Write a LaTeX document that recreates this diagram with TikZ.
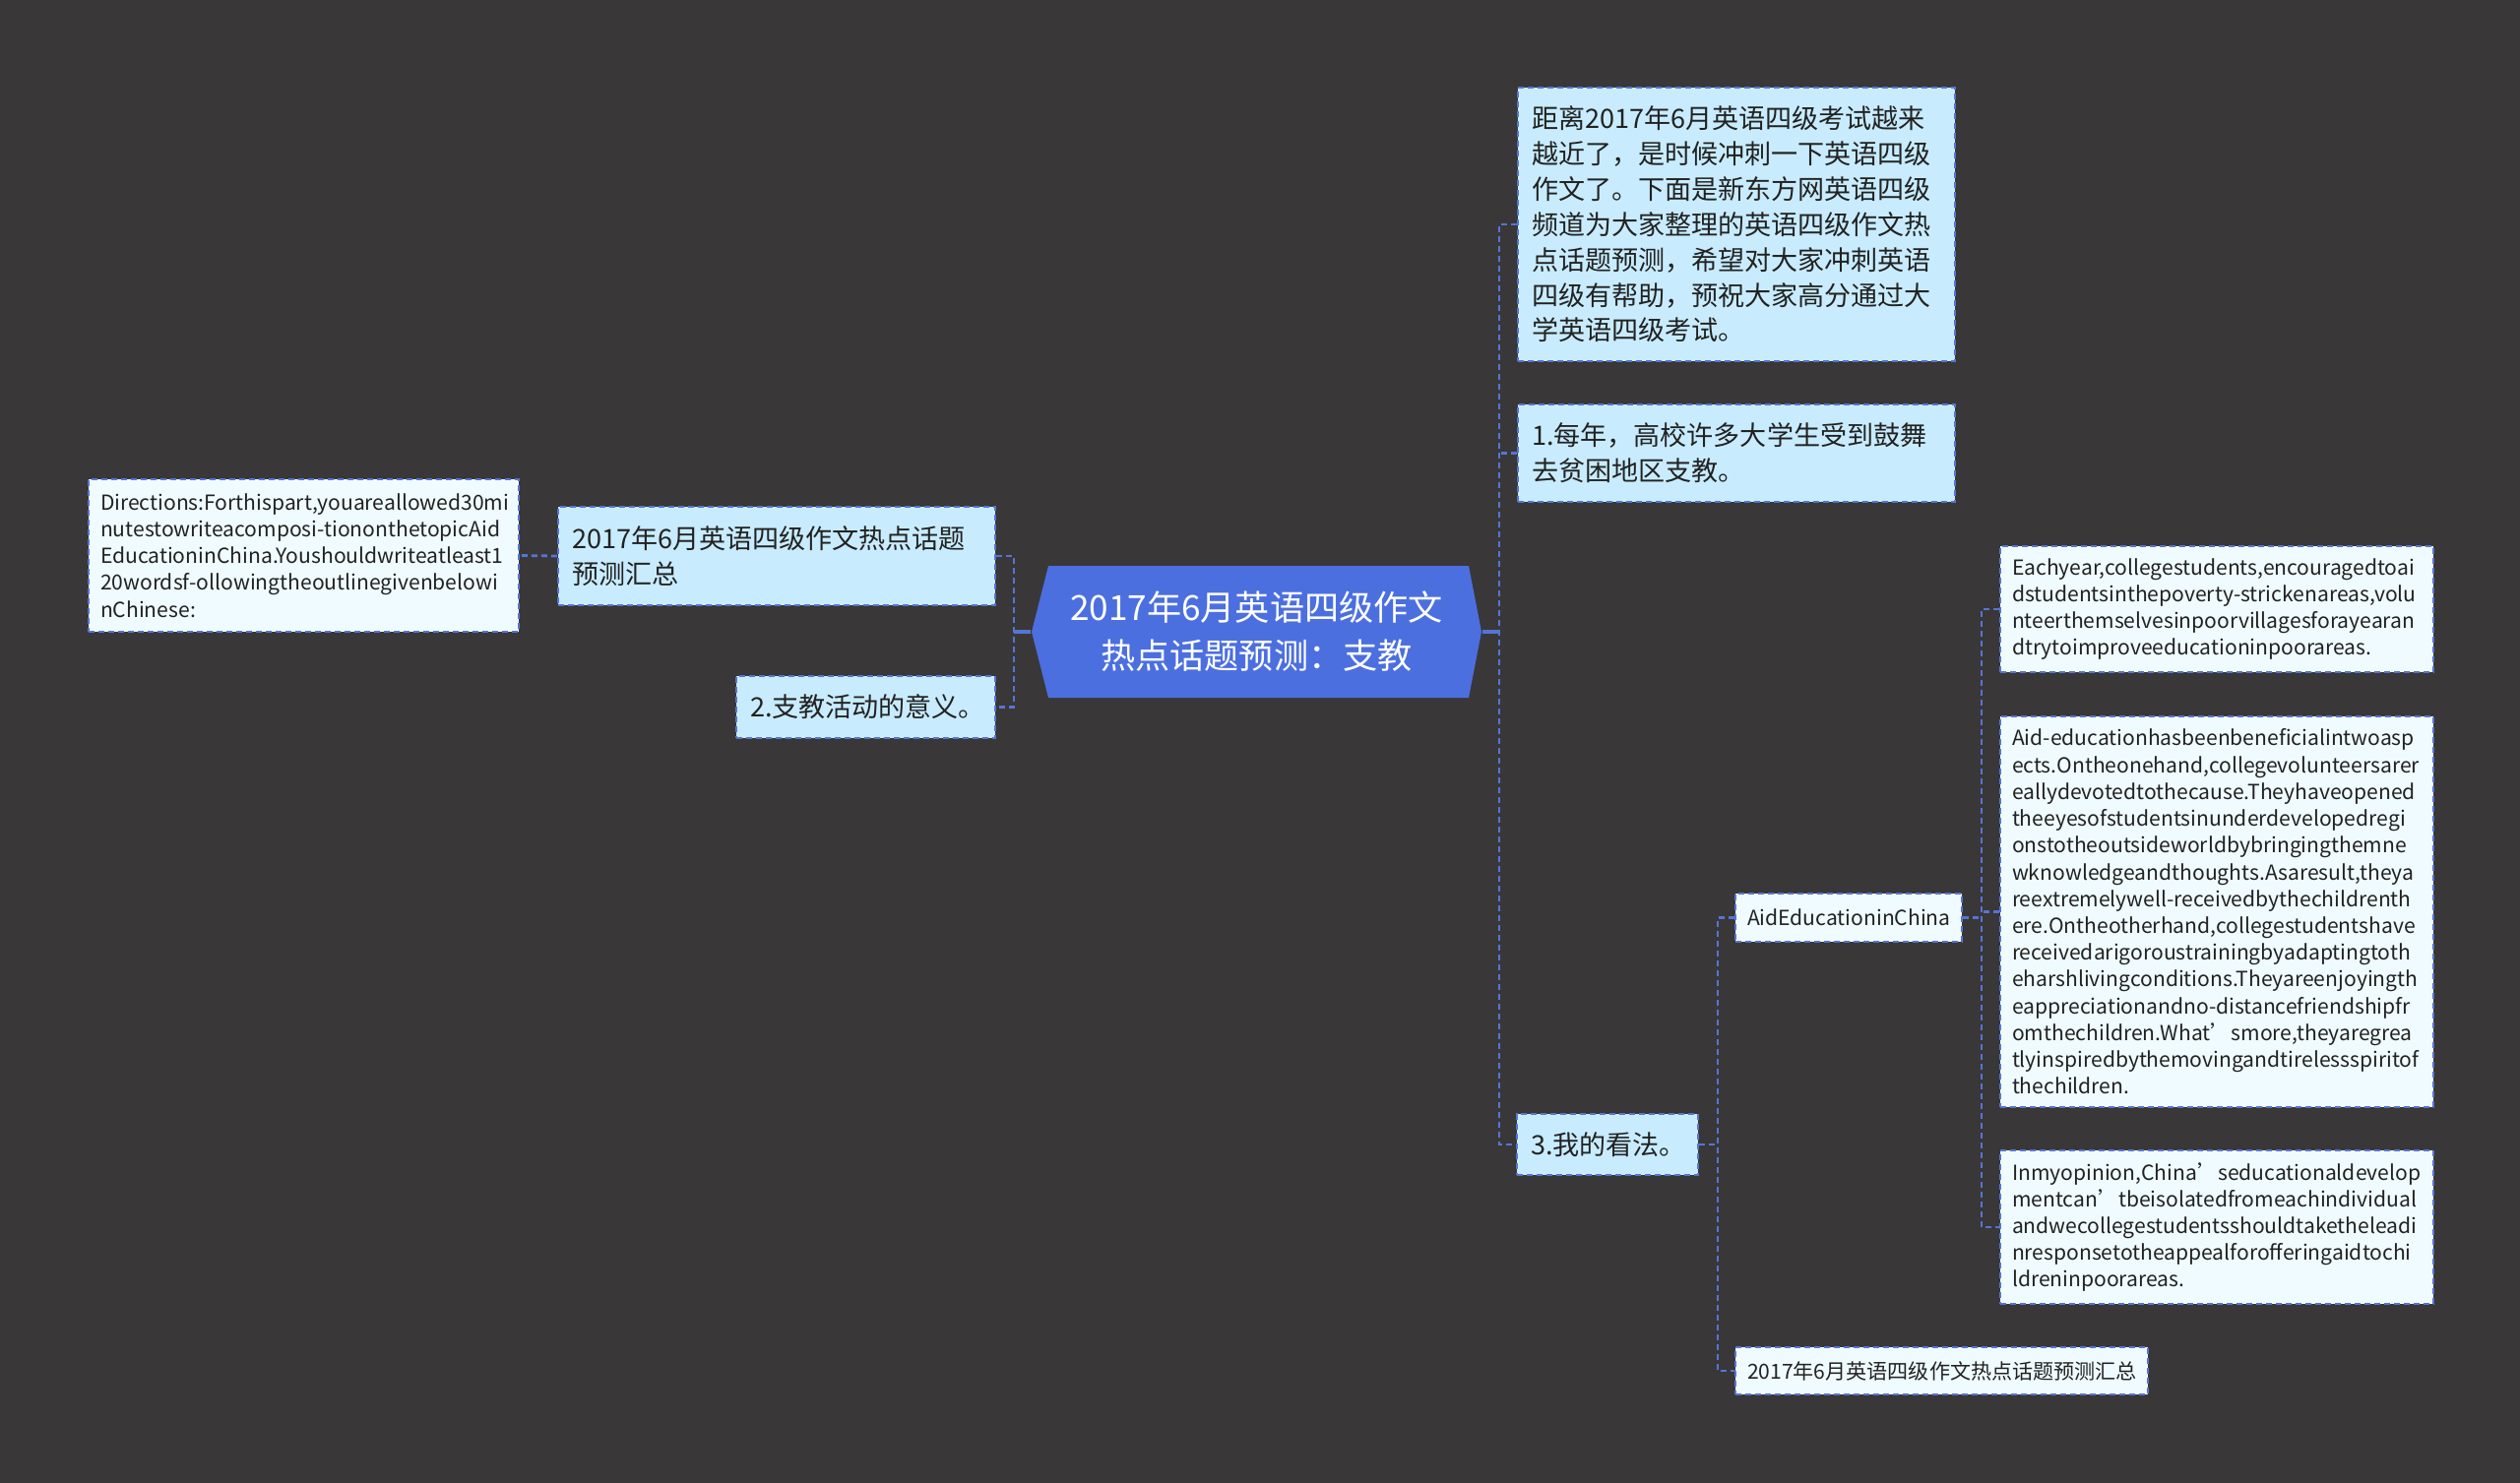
\documentclass[tikz,border=0pt]{standalone}
\usepackage{fontspec}
\setmainfont{Noto Sans CJK SC}
\definecolor{shutuBg}{RGB}{57,55,56}
\definecolor{shutuHub}{RGB}{76,111,224}
\definecolor{shutuLine}{RGB}{86,116,214}
\definecolor{shutuOne}{RGB}{200,236,253}
\definecolor{shutuTwo}{RGB}{240,251,255}
\definecolor{shutuText}{RGB}{34,34,34}
\hyphenpenalty=10000
\exhyphenpenalty=10000

\begin{document}
\begin{tikzpicture}[
  hub/.style={text=white, align=center, minimum width=4.57cm, minimum height=1.34cm,
              font=\fontsize{10pt}{13.9pt}\selectfont},
  box/.style={draw=shutuLine, line width=0.6pt, dash pattern=on 0.06cm off 0.04cm,
              text=shutuText, align=left, inner xsep=0.14cm, inner ysep=0pt},
  lvone/.style={box, fill=shutuOne, font=\fontsize{7.7pt}{10.2pt}\selectfont},
  lvtwo/.style={box, fill=shutuTwo, inner xsep=0.12cm, font=\fontsize{6pt}{7.75pt}\selectfont},
  conn/.style={draw=shutuLine, line width=0.8pt, dash pattern=on 0.06cm off 0.04cm},
  stub/.style={draw=shutuLine, line width=0.9pt}
]
  \useasboundingbox (0,0) rectangle (25.6,-15.07);
  \fill[shutuBg] (0,0) rectangle (25.6,-15.07);

  \fill[shutuHub] (10.48,-6.42) -- (10.65,-5.75) -- (14.92,-5.75) -- (15.05,-6.42)
    -- (14.92,-7.09) -- (10.65,-7.09) -- cycle;
  \node[hub] (hub) at (12.765,-6.42) {2017年6月英语四级作文\\热点话题预测：支教};

  \node[lvone, text width=4.16cm, minimum height=1.00cm] (sumL) at (7.89,-5.65)
    {2017年6月英语四级作文热点话题\\预测汇总};
  \node[lvone, text width=2.35cm, minimum height=0.63cm] (meanL) at (8.795,-7.185)
    {2.支教活动的意义。};
  \node[lvtwo, text width=4.13cm, minimum height=1.55cm] (dirs) at (3.085,-5.645)
    {Directions:Forthispart,youareallowed30mi\\
     nutestowriteacomposi-tiononthetopicAid\\
     EducationinChina.Youshouldwriteatleast1\\
     20wordsf-ollowingtheoutlinegivenbelowi\\
     nChinese:};

  \node[lvone, text width=4.16cm, minimum height=2.78cm] (intro) at (17.64,-2.28)
    {距离2017年6月英语四级考试越来\\越近了，是时候冲刺一下英语四级\\作文了。下面是新东方网英语四级\\
     频道为大家整理的英语四级作文热\\点话题预测，希望对大家冲刺英语\\四级有帮助，预祝大家高分通过大\\
     学英语四级考试。};
  \node[lvone, text width=4.16cm, minimum height=0.99cm] (first) at (17.64,-4.605)
    {1.每年，高校许多大学生受到鼓舞\\去贫困地区支教。};
  \node[lvone, text width=1.56cm, minimum height=0.62cm] (view) at (16.33,-11.63)
    {3.我的看法。};

  \node[lvtwo, text width=2.06cm, minimum height=0.49cm] (aidc) at (18.78,-9.325)
    {AidEducationinChina};
  \node[lvtwo, text width=3.95cm, minimum height=0.48cm] (sumR) at (19.725,-13.93)
    {2017年6月英语四级作文热点话题预测汇总};

  \node[lvtwo, text width=4.16cm, minimum height=1.28cm] (each) at (22.52,-6.19)
    {Eachyear,collegestudents,encouragedtoai\\
     dstudentsinthepoverty-strickenareas,volu\\
     nteerthemselvesinpoorvillagesforayearan\\
     dtrytoimproveeducationinpoorareas.};
  \node[lvtwo, text width=4.16cm, minimum height=3.97cm] (benef) at (22.52,-9.265)
    {Aid-educationhasbeenbeneficialintwoasp\\
     ects.Ontheonehand,collegevolunteersarer\\
     eallydevotedtothecause.Theyhaveopened\\
     theeyesofstudentsinunderdevelopedregi\\
     onstotheoutsideworldbybringingthemne\\
     wknowledgeandthoughts.Asaresult,theya\\
     reextremelywell-receivedbythechildrenth\\
     ere.Ontheotherhand,collegestudentshave\\
     receivedarigoroustrainingbyadaptingtoth\\
     eharshlivingconditions.Theyareenjoyingth\\
     eappreciationandno-distancefriendshipfr\\
     omthechildren.What’smore,theyaregrea\\
     tlyinspiredbythemovingandtirelessspiritof\\
     thechildren.};
  \node[lvtwo, text width=4.16cm, minimum height=1.56cm] (opin) at (22.52,-12.47)
    {Inmyopinion,China’seducationaldevelop\\
     mentcan’tbeisolatedfromeachindividual\\
     andwecollegestudentsshouldtaketheleadi\\
     nresponsetotheappealforofferingaidtochi\\
     ldreninpoorareas.};

  \coordinate (ljoin) at (10.30,-6.42);
  \coordinate (rjoin) at (15.23,-6.42);
  \coordinate (vjoin) at (17.45,-11.63);
  \coordinate (ajoin) at (20.13,-9.325);

  \draw[stub] (hub.west) -- (ljoin);
  \draw[conn] (sumL.east) -| (ljoin) |- (meanL.east);
  \draw[conn] (sumL.west) -- (dirs.east);
  \draw[stub] (hub.east) -- (rjoin);
  \draw[conn] (intro.west) -| (rjoin) |- (view.west);
  \draw[conn] (first.west) -- (first.west -| rjoin);
  \draw[conn] (view.east) -- (vjoin);
  \draw[conn] (aidc.west) -| (vjoin) |- (sumR.west);
  \draw[conn] (aidc.east) -- (ajoin);
  \draw[conn] (each.west) -| (ajoin) |- (opin.west);
  \draw[conn] (benef.west) -- (benef.west -| ajoin);
\end{tikzpicture}
\end{document}
